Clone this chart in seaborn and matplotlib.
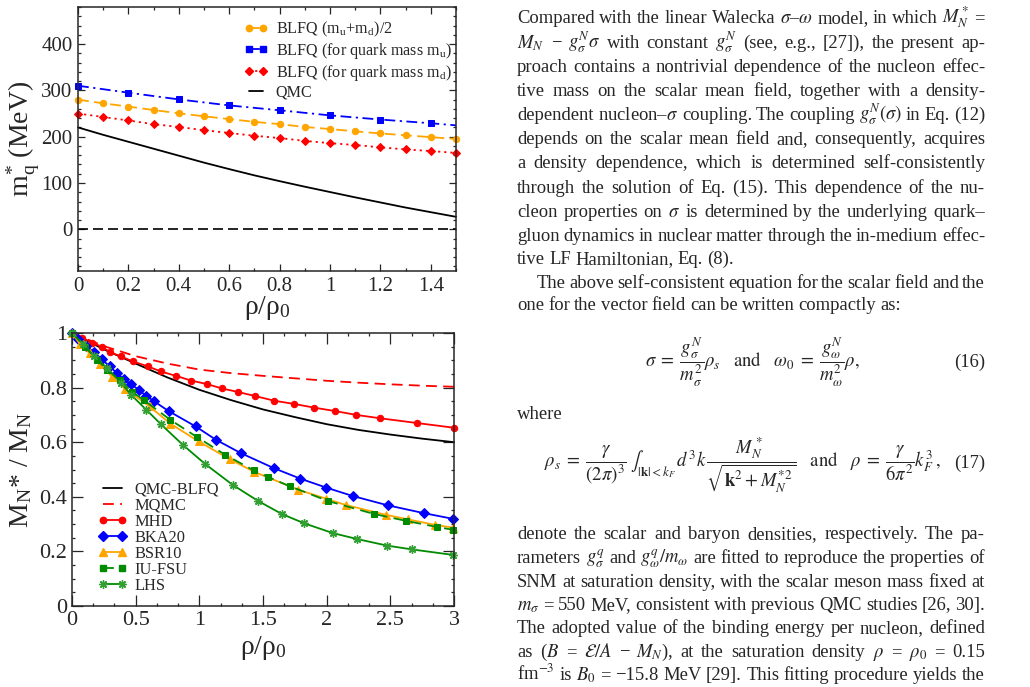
import matplotlib
matplotlib.use("Agg")
import matplotlib.pyplot as plt
import matplotlib.transforms as mtransforms
from matplotlib.lines import Line2D
from matplotlib.ticker import MultipleLocator, FuncFormatter
import seaborn as sns

# ---------------- data: top panel (m_q^* vs rho/rho0) ----------------
rho_top = [0.0, 0.1, 0.2, 0.3, 0.4, 0.5, 0.6, 0.7, 0.8, 0.9, 1.0, 1.1, 1.2, 1.3, 1.4, 1.5]
mq_avg = [280, 272, 265, 257.5, 250.5, 244, 238, 232, 227, 221, 216.5, 211.5, 207, 203, 199, 195]
mq_d = [250, 242.5, 235, 227, 221, 214, 208, 202, 197, 191, 186, 182, 177, 172.5, 169, 165]
mq_qmc = [220, 204, 189, 174, 159, 144, 130, 116.5, 104, 92, 80.5, 69, 58, 47, 37, 27]
rho_u = [0.0, 0.2, 0.4, 0.6, 0.8, 1.0, 1.2, 1.4, 1.5]
mq_u = [310, 295, 280.5, 267.5, 257, 246, 237, 229, 224.5]

# ---------------- data: bottom panel (M_N^*/M_N vs rho/rho0) ----------------
x_smooth = [0.0, 0.25, 0.5, 0.75, 1.0, 1.25, 1.5, 1.75, 2.0, 2.25, 2.5, 2.75, 3.0]
qmc_blfq = [1.0, 0.94, 0.888, 0.837, 0.792, 0.754, 0.72, 0.692, 0.666, 0.645, 0.628, 0.613, 0.600]
mqmc = [1.0, 0.952, 0.915, 0.888, 0.866, 0.853, 0.843, 0.834, 0.825, 0.818, 0.812, 0.807, 0.803]

x_mhd = [0.0, 0.08, 0.16, 0.235, 0.30, 0.384, 0.478, 0.594, 0.698, 0.816, 0.934, 1.059, 1.177,
         1.303, 1.439, 1.588, 1.746, 1.897, 2.067, 2.232, 2.415, 2.713, 3.0]
y_mhd = [1.0, 0.982, 0.965, 0.949, 0.930, 0.914, 0.896, 0.878, 0.859, 0.843, 0.826, 0.813, 0.797,
         0.784, 0.769, 0.752, 0.740, 0.727, 0.714, 0.700, 0.688, 0.670, 0.653]

x_bka = [0.0, 0.05, 0.11, 0.175, 0.235, 0.295, 0.353, 0.405, 0.463, 0.523, 0.583, 0.641, 0.759,
         0.97, 1.13, 1.326, 1.585, 1.79, 1.995, 2.204, 2.478, 2.765, 2.995]
y_bka = [1.0, 0.977, 0.953, 0.929, 0.903, 0.878, 0.853, 0.831, 0.813, 0.792, 0.770, 0.751, 0.714,
         0.658, 0.609, 0.560, 0.505, 0.467, 0.434, 0.403, 0.369, 0.340, 0.319]

x_bsr = [0.0, 0.06, 0.14, 0.217, 0.314, 0.418, 0.609, 0.772, 0.994, 1.237, 1.433, 1.775, 1.996,
         2.15, 2.465, 2.642, 2.852, 2.995]
y_bsr = [1.0, 0.961, 0.925, 0.887, 0.840, 0.795, 0.731, 0.668, 0.603, 0.538, 0.491, 0.426, 0.393,
         0.370, 0.334, 0.317, 0.297, 0.287]

x_iu = [0.0, 0.104, 0.196, 0.275, 0.374, 0.471, 0.567, 0.772, 0.981, 1.203, 1.426, 1.543, 1.714,
        2.014, 2.373, 2.622, 2.870, 2.995]
y_iu = [1.0, 0.949, 0.902, 0.865, 0.829, 0.785, 0.753, 0.682, 0.619, 0.554, 0.497, 0.472, 0.438,
        0.384, 0.337, 0.312, 0.289, 0.279]

x_lhs = [0.0, 0.09, 0.175, 0.275, 0.385, 0.463, 0.583, 0.698, 0.871, 1.046, 1.261, 1.457, 1.648,
         1.823, 2.049, 2.242, 2.477, 2.674, 2.995]
y_lhs = [1.0, 0.958, 0.914, 0.872, 0.817, 0.774, 0.719, 0.666, 0.590, 0.520, 0.444, 0.386, 0.337,
         0.303, 0.267, 0.245, 0.221, 0.207, 0.187]

top_labels = ["BLFQ (m$_\\mathregular{u}$+m$_\\mathregular{d}$)/2",
              "BLFQ (for quark mass m$_\\mathregular{u}$)",
              "BLFQ (for quark mass m$_\\mathregular{d}$)",
              "QMC"]
bot_labels = ["QMC-BLFQ", "MQMC", "MHD", "BKA20", "BSR10", "IU-FSU", "LHS"]

# ---------------- page text ----------------
para1 = [
    "Compared with the linear Walecka $\\sigma$–$\\omega$ model, in which $M_N^*$ =",
    "$M_N$ − $g_\\sigma^N\\sigma$ with constant $g_\\sigma^N$ (see, e.g., [27]), the present ap-",
    "proach contains a nontrivial dependence of the nucleon effec-",
    "tive mass on the scalar mean field, together with a density-",
    "dependent nucleon–$\\sigma$ coupling. The coupling $g_\\sigma^N(\\sigma)$ in Eq. (12)",
    "depends on the scalar mean field and, consequently, acquires",
    "a density dependence, which is determined self-consistently",
    "through the solution of Eq. (15).  This dependence of the nu-",
    "cleon properties on $\\sigma$ is determined by the underlying quark–",
    "gluon dynamics in nuclear matter through the in-medium effec-",
    "tive LF Hamiltonian, Eq. (8).",
]
para2 = [
    "The above self-consistent equation for the scalar field and the",
    "one for the vector field can be written compactly as:",
]
para3 = [
    "denote the scalar and baryon densities, respectively.  The pa-",
    "rameters $g_\\sigma^q$ and $g_\\omega^q/m_\\omega$ are fitted to reproduce the properties of",
    "SNM at saturation density, with the scalar meson mass fixed at",
    "$m_\\sigma$ = 550 MeV, consistent with previous QMC studies [26, 30].",
    "The adopted value of the binding energy per nucleon, defined",
    "as ($B$ = $\\mathcal{E}/A$ − $M_N$), at the saturation density $\\rho$ = $\\rho_0$ = 0.15",
    "fm$^{-3}$ is $B_0$ = −15.8 MeV [29]. This fitting procedure yields the",
]
eq16 = ("$\\sigma\\;=\\;\\dfrac{g_\\sigma^N}{m_\\sigma^2}\\rho_s\\quad\\mathrm{and}\\quad"
        "\\omega_0\\;=\\;\\dfrac{g_\\omega^N}{m_\\omega^2}\\rho,$")
eq17 = ("$\\rho_s\\;=\\;\\dfrac{\\gamma}{(2\\pi)^3}\\;\\int_{|\\mathbf{k}|<k_F}\\, d^3k\\,"
        "\\dfrac{M_N^*}{\\sqrt{\\mathbf{k}^2 + M_N^{*2}}}\\quad\\mathrm{and}\\quad"
        "\\rho\\;=\\;\\dfrac{\\gamma}{6\\pi^2}k_F^3\\,,$")

# ---------------- style ----------------
sns.set_style("ticks")
plt.rcParams["font.family"] = ["Liberation Serif", "DejaVu Serif"]
plt.rcParams["mathtext.fontset"] = "stix"
plt.rcParams["axes.linewidth"] = 1.1

W, H = 1030, 687
fig = plt.figure(figsize=(W / 100, H / 100), dpi=100)
fig.patch.set_facecolor("white")

ax1 = fig.add_axes([78 / W, 1 - 271 / H, 378 / W, 264 / H])
ax2 = fig.add_axes([72 / W, 1 - 606 / H, 382 / W, 273 / H])

ORANGE = "#ffa500"
BLUE = "#0000ff"
RED = "#ff0000"
GREEN = "#008b00"
STAR = "#33a033"

DASH_O = (0, (6, 3))
DASHDOT = (0, (6, 2.5, 1.2, 2.5))
DOT = (0, (1.2, 2.2))
DASH_B = (0, (6, 3.5))

# ---- top panel ----
common = dict(estimator=None, errorbar=None, legend=False, clip_on=False, linewidth=1.3)
sns.lineplot(x=rho_top, y=mq_qmc, ax=ax1, color="black", linestyle="-", **common)
sns.lineplot(x=rho_top, y=mq_d, ax=ax1, color=RED, linestyle=DOT, marker="D",
             markersize=4, markeredgecolor=RED, markerfacecolor=RED, **common)
sns.lineplot(x=rho_u, y=mq_u, ax=ax1, color=BLUE, linestyle=DASHDOT, marker="s",
             markersize=4.3, markeredgecolor=BLUE, markerfacecolor=BLUE,
             markevery=list(range(len(rho_u) - 1)), **common)
sns.lineplot(x=rho_top, y=mq_avg, ax=ax1, color=ORANGE, linestyle=DASH_O, marker="o",
             markersize=4.6, markeredgecolor=ORANGE, markerfacecolor=ORANGE, **common)
ax1.axhline(0, color="black", linestyle=(0, (6, 3)), linewidth=1.2)

ax1.set_xlim(0, 1.5)
ax1.set_ylim(-90, 480)
ax1.xaxis.set_major_locator(MultipleLocator(0.2))
ax1.xaxis.set_minor_locator(MultipleLocator(0.1))
ax1.yaxis.set_major_locator(MultipleLocator(100))
ax1.yaxis.set_minor_locator(MultipleLocator(20))
ax1.xaxis.set_major_formatter(FuncFormatter(lambda v, p: f"{v:g}"))
ax1.tick_params(which="both", direction="in", top=True, right=True, width=0.9, labelsize=15, pad=4)
ax1.tick_params(which="major", length=5)
ax1.tick_params(which="minor", length=2.5)
ax1.set_xlabel("ρ/ρ$_\\mathregular{0}$", fontsize=20, va="center")
ax1.set_ylabel("m$_\\mathregular{q}^\\mathregular{*}$ (MeV)", fontsize=20, va="center")
ax1.xaxis.set_label_coords(0.5, -0.142)
ax1.yaxis.set_label_coords(-0.145, 0.5)

h_top = [
    Line2D([], [], color=ORANGE, linestyle=DASH_O, marker="o", markersize=4.6,
           markeredgecolor=ORANGE, linewidth=1.3),
    Line2D([], [], color=BLUE, linestyle=DASHDOT, marker="s", markersize=4.3,
           markeredgecolor=BLUE, linewidth=1.3),
    Line2D([], [], color=RED, linestyle=DOT, marker="D", markersize=4,
           markeredgecolor=RED, linewidth=1.3),
    Line2D([], [], color="black", linestyle="-", linewidth=1.3),
]
ax1.legend(h_top, top_labels, loc="upper left", bbox_to_anchor=(0.44, 0.95), frameon=False,
           fontsize=11.6, numpoints=2, handlelength=1.45, handletextpad=0.5, labelspacing=0.1,
           borderpad=0, borderaxespad=0)

# ---- bottom panel ----
sns.lineplot(x=x_smooth, y=qmc_blfq, ax=ax2, color="black", linestyle="-", **common)
sns.lineplot(x=x_smooth, y=mqmc, ax=ax2, color=RED, linestyle=DASH_B, **common)
sns.lineplot(x=x_mhd, y=y_mhd, ax=ax2, color=RED, linestyle="-", marker="o", markersize=4.6,
             markeredgecolor=RED, markerfacecolor=RED, **common)
sns.lineplot(x=x_bka, y=y_bka, ax=ax2, color=BLUE, linestyle="-", marker="D", markersize=4.6,
             markeredgecolor=BLUE, markerfacecolor=BLUE, **common)
sns.lineplot(x=x_bsr, y=y_bsr, ax=ax2, color=ORANGE, linestyle="-", marker="^", markersize=5.5,
             markeredgecolor=ORANGE, markerfacecolor=ORANGE, **common)
sns.lineplot(x=x_iu, y=y_iu, ax=ax2, color=GREEN, linestyle=DASH_B, marker="s",
             markersize=4.6, markeredgecolor=GREEN, markerfacecolor=GREEN, **common)
sns.lineplot(x=x_lhs, y=y_lhs, ax=ax2, color=GREEN, linestyle="-", marker=(8, 2, 0),
             markersize=6, markeredgecolor=STAR, markeredgewidth=1.0, **common)

ax2.set_xlim(0, 3)
ax2.set_ylim(0, 1)
ax2.xaxis.set_major_locator(MultipleLocator(0.5))
ax2.xaxis.set_minor_locator(MultipleLocator(0.5 / 3))
ax2.yaxis.set_major_locator(MultipleLocator(0.2))
ax2.yaxis.set_minor_locator(MultipleLocator(0.05))
ax2.xaxis.set_major_formatter(FuncFormatter(lambda v, p: f"{v:g}"))
ax2.yaxis.set_major_formatter(FuncFormatter(lambda v, p: f"{v:g}"))
ax2.tick_params(which="both", direction="in", top=True, right=True, width=0.9, labelsize=16, pad=3.5)
ax2.tick_params(which="major", length=8)
ax2.tick_params(which="minor", length=2.5)
ax2.set_xlabel("ρ/ρ$_\\mathregular{0}$", fontsize=20, va="center")
ax2.set_ylabel("M$_\\mathregular{N}$* / M$_\\mathregular{N}$", fontsize=20, va="center")
ax2.xaxis.set_label_coords(0.5, -0.154)
ax2.yaxis.set_label_coords(-0.131, 0.5)

h_bot = [
    Line2D([], [], color="black", linestyle="-", linewidth=1.3),
    Line2D([], [], color=RED, linestyle=DASH_B, linewidth=1.3),
    Line2D([], [], color=RED, marker="o", markersize=4.6, markeredgecolor=RED, linewidth=1.3),
    Line2D([], [], color=BLUE, marker="D", markersize=4.6, markeredgecolor=BLUE, linewidth=1.3),
    Line2D([], [], color=ORANGE, marker="^", markersize=5.5, markeredgecolor=ORANGE, linewidth=1.3),
    Line2D([], [], color=GREEN, linestyle=DASH_B, marker="s", markersize=4.6,
           markeredgecolor=GREEN, linewidth=1.3),
    Line2D([], [], color=GREEN, marker=(8, 2, 0), markersize=6, markeredgecolor=STAR,
           markeredgewidth=1.0, linewidth=1.3),
]
ax2.legend(h_bot, bot_labels, loc="upper left", bbox_to_anchor=(0.068, 0.455), frameon=False,
           fontsize=11.8, numpoints=2, handlelength=1.75, handletextpad=0.45, labelspacing=0.0,
           borderpad=0, borderaxespad=0)

# ---------------- right-hand column of page text ----------------
FS = 13.4
X0, X1 = 517, 985
renderer = fig.canvas.get_renderer()
ident = mtransforms.IdentityTransform()


def place_line(line, yc, justify, x0=X0):
    tokens = [t for t in line.split(" ") if t]
    objs = [fig.text(0, 0, t, fontsize=FS, ha="left", va="baseline", transform=ident)
            for t in tokens]
    widths = [o.get_window_extent(renderer).width for o in objs]
    if justify and len(tokens) > 1:
        gap = (X1 - x0 - sum(widths)) / (len(tokens) - 1)
    else:
        gap = FS * 100 / 72 * 0.22
    x = x0
    yb = H - (yc + 5)
    for o, w in zip(objs, widths):
        o.set_position((x, yb))
        x += w + gap


y_p1 = [18, 43, 67, 91, 115, 139, 163, 188, 212, 236, 259]
for i, (ln, yc) in enumerate(zip(para1, y_p1)):
    place_line(ln, yc, justify=(i < len(para1) - 1))
place_line(para2[0], 283, True, x0=537)
place_line(para2[1], 305, False)

fig.text(752 / W, 1 - 362 / H, eq16, fontsize=FS, ha="center", va="center")
fig.text(X1 / W, 1 - 362 / H, "(16)", fontsize=FS, ha="right", va="center")
place_line("where", 414, False)
fig.text(743 / W, 1 - 465 / H, eq17, fontsize=FS, ha="center", va="center")
fig.text(X1 / W, 1 - 463 / H, "(17)", fontsize=FS, ha="right", va="center")

y_p3 = [534, 558, 582, 605, 628, 652, 675]
for ln, yc in zip(para3, y_p3):
    place_line(ln, yc, True)

fig.savefig("out.png", dpi=100)
